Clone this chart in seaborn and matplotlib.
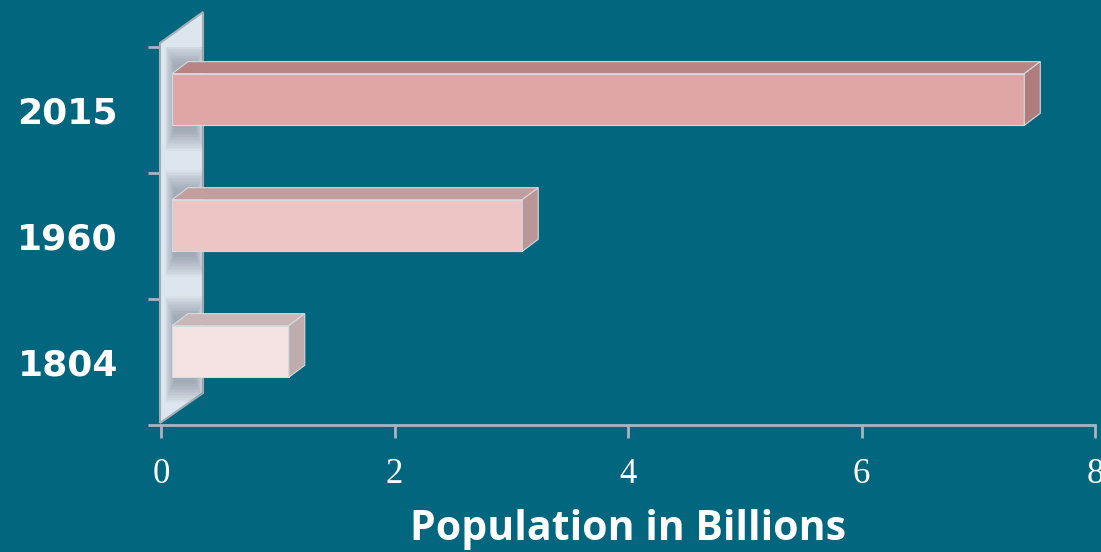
import matplotlib
matplotlib.use("Agg")
import matplotlib.pyplot as plt
from matplotlib import transforms
from matplotlib.patches import Polygon, Rectangle
import pandas as pd
import seaborn as sns

# ---- data ----
years = ["2015", "1960", "1804"]
population = [7.3, 3.0, 1.0]
x_ticks = [0, 2, 4, 6, 8]

# ---- style ----
bar_colors = ["#E0A5A5", "#EEC5C5", "#F5E3E3"]
BG = "#02667F"
AXIS_GREY = "#A9B4BC"
W, H = 1101, 552

sns.set_theme(style="white")
plt.rcParams["font.family"] = ["DejaVu Sans"]


def fig_px(pts):
    # pixel coords (origin top-left) -> figure fraction
    return [(x / W, 1 - y / H) for x, y in pts]


fig = plt.figure(figsize=(W / 100, H / 100), dpi=100, facecolor=BG)
ax = fig.add_axes([161 / W, (H - 425) / H, 934 / W, 378 / H])
ax.set_facecolor(BG)

df = pd.DataFrame({"year": years, "pop": population})

# side wall of the "3d" chart
wall = Polygon(fig_px([(160, 423), (160, 43), (203, 12), (203, 393)]),
               closed=True, transform=fig.transFigure, facecolor="#DDE5EF",
               edgecolor="#A3ADB6", lw=1.5, zorder=1, clip_on=False)
ax.add_patch(wall)

sns.barplot(data=df, x="pop", y="year", hue="year", order=years,
            hue_order=years, palette=bar_colors, saturation=1, width=0.41,
            orient="h", legend=False, edgecolor="#D2DCE0", linewidth=0.8,
            ax=ax, zorder=3)

# bars sit a little behind the floor axis
shift = transforms.offset_copy(ax.transData, fig=fig, x=11, y=10.5, units="dots")
dx = 16 / (934 / 8)
dy = 12 / (378 / 3)

bars = [p for p in ax.patches if p is not wall]
for p in bars:
    p.set_transform(shift)
    x0, y0, w, h = p.get_x(), p.get_y(), p.get_width(), p.get_height()
    r, g, b, _ = p.get_facecolor()

    # soft shadow on the wall
    n = 14
    for k in range(n):
        s = Rectangle((-0.06 + k * 0.006, y0 - dy - 0.14 + k * 0.012),
                      0.34 - k * 0.012, h + dy + 0.34 - k * 0.024,
                      transform=shift, facecolor="#56616C", alpha=0.035,
                      lw=0, zorder=2)
        ax.add_patch(s)
        s.set_clip_path(wall)

    top = Polygon([(x0, y0), (x0 + w, y0), (x0 + w + dx, y0 - dy), (x0 + dx, y0 - dy)],
                  closed=True, transform=shift, facecolor=(r * 0.82, g * 0.8, b * 0.8),
                  edgecolor="#D2DCE0", lw=0.8, zorder=3)
    side = Polygon([(x0 + w, y0), (x0 + w, y0 + h), (x0 + w + dx, y0 + h - dy),
                    (x0 + w + dx, y0 - dy)],
                   closed=True, transform=shift, facecolor=(r * 0.78, g * 0.76, b * 0.76),
                   edgecolor="#D2DCE0", lw=0.8, zorder=3)
    ax.add_patch(top)
    ax.add_patch(side)

ax.set_xlim(0, 8)
ax.set_ylim(2.5, -0.5)

# x axis
ax.set_xticks(x_ticks)
ax.set_xticklabels([str(t) for t in x_ticks])
ax.tick_params(axis="x", length=9, width=2, color=AXIS_GREY, labelcolor="white",
               labelsize=25, pad=15, direction="out", bottom=True)
for lbl in ax.get_xticklabels():
    lbl.set_fontfamily("Liberation Serif")
ax.set_xlabel("Population in Billions", color="white", fontsize=29.5,
              fontfamily="Open Sans", fontweight="bold", labelpad=13)

# y axis
ax.set_ylabel("")
ax.set_yticks([-0.5, 0.5, 1.5, 2.5], minor=True)
ax.tick_params(axis="y", which="major", length=0, pad=31, labelsize=26,
               labelcolor="white")
ax.tick_params(axis="y", which="minor", length=9.5, width=2, color=AXIS_GREY,
               direction="out", left=True)
for lbl in ax.get_yticklabels():
    lbl.set_fontweight("bold")

for side_name in ["top", "right", "left"]:
    ax.spines[side_name].set_visible(False)
ax.spines["bottom"].set_color(AXIS_GREY)
ax.spines["bottom"].set_linewidth(2)
ax.spines["bottom"].set_zorder(4)

fig.savefig("out.png", dpi=100, facecolor=BG)
